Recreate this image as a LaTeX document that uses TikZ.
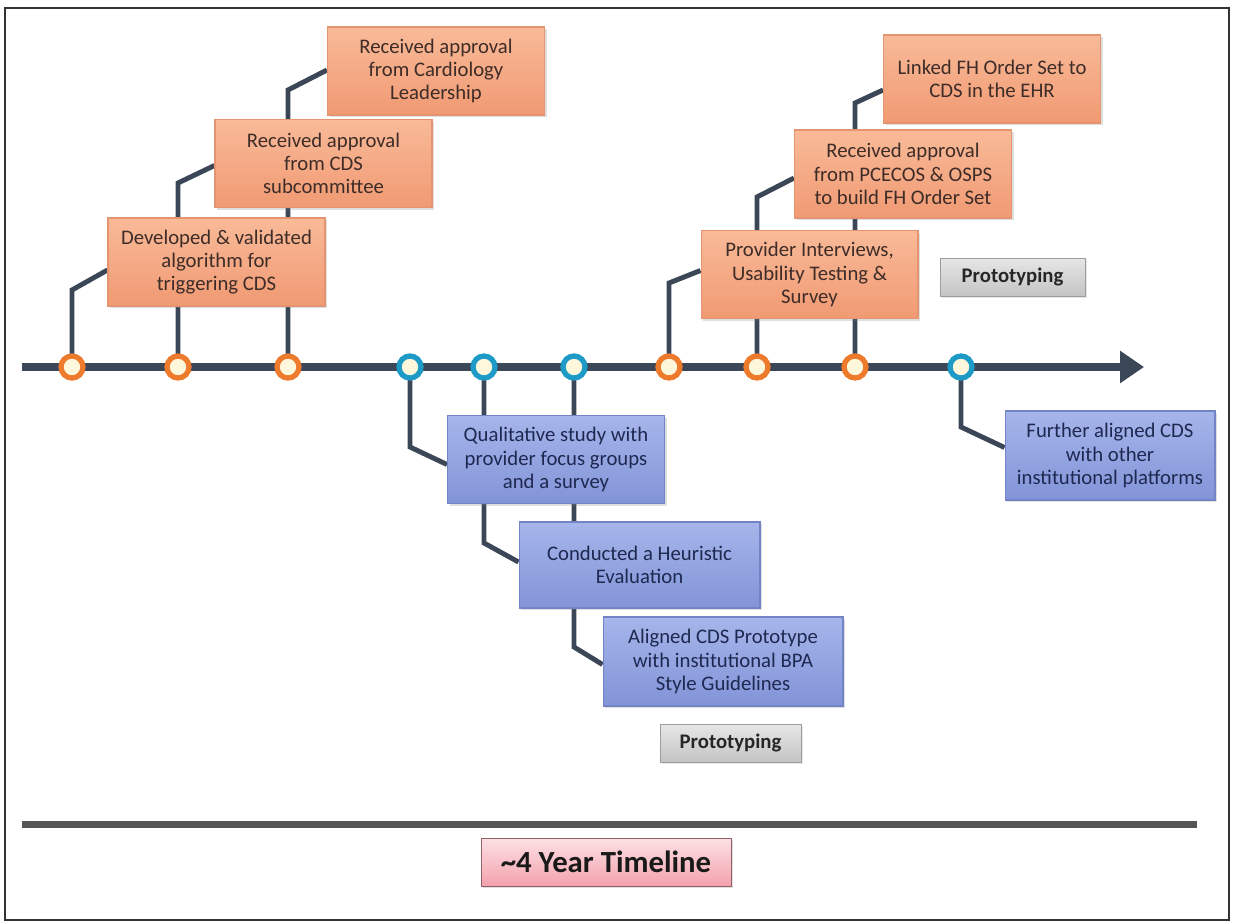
\documentclass[tikz,border=0pt]{standalone}
\usepackage{fontspec}
\setmainfont{Carlito}
\usetikzlibrary{arrows.meta,calc,backgrounds,shadows}
\definecolor{axiscol}{HTML}{3B4657}
\definecolor{orangering}{HTML}{EE7A2C}
\definecolor{bluering}{HTML}{1E9AC6}
\definecolor{ringfill}{HTML}{FFF7DC}
\definecolor{orgtop}{HTML}{F9BA98}
\definecolor{orgbot}{HTML}{F09A73}
\definecolor{orgdraw}{HTML}{E59470}
\definecolor{orgtext}{HTML}{3E2C28}
\definecolor{blutop}{HTML}{A6B5EA}
\definecolor{blubot}{HTML}{8294D8}
\definecolor{bludraw}{HTML}{7384C6}
\definecolor{blutext}{HTML}{1E2850}
\definecolor{graytop}{HTML}{E6E6E6}
\definecolor{graybot}{HTML}{C4C4C4}
\definecolor{pinktop}{HTML}{FDE0E4}
\definecolor{pinkbot}{HTML}{F3A2AD}
\definecolor{framecol}{HTML}{333333}
\definecolor{baseline}{HTML}{555555}
\tikzset{
  evbox/.style={rectangle, align=center, inner sep=2pt, minimum width=4.34cm, minimum height=1.76cm,
    font=\fontsize{11.8}{13.2}\selectfont, drop shadow={opacity=0.25, shadow xshift=1.2pt, shadow yshift=-1.2pt}},
  orgbox/.style={evbox, draw=orgdraw, line width=0.6pt, top color=orgtop, bottom color=orgbot, text=orgtext},
  blubox/.style={evbox, draw=bludraw, line width=0.6pt, top color=blutop, bottom color=blubot, text=blutext},
  protobox/.style={rectangle, draw=graybot!80!black, line width=0.4pt, top color=graytop, bottom color=graybot,
    font=\fontsize{11.8}{13}\selectfont\bfseries, text=black!85, drop shadow={opacity=0.2, shadow xshift=1pt, shadow yshift=-1pt}},
  marker/.style={circle, minimum size=0.44cm, inner sep=0pt, line width=3pt, fill=ringfill},
  omark/.style={marker, draw=orangering},
  bmark/.style={marker, draw=bluering},
  conn/.style={draw=axiscol, line width=2.8pt},
}
\begin{document}
\begin{tikzpicture}[x=0.02cm,y=-0.02cm]
\useasboundingbox (0,0) rectangle (1236,923);
\draw[framecol, line width=1.4pt] (5,8) rectangle (1229,920);

% markers
\node[omark] (m1) at (72,367) {};
\node[omark] (m2) at (178,367) {};
\node[omark] (m3) at (288,367) {};
\node[bmark] (m4) at (410,367) {};
\node[bmark] (m5) at (484,367) {};
\node[bmark] (m6) at (574,367) {};
\node[omark] (m7) at (669,367) {};
\node[omark] (m8) at (757,367) {};
\node[omark] (m9) at (855,367) {};
\node[bmark] (m10) at (961,367) {};

\coordinate (axL) at (22,367);
\coordinate (axR) at (1144,367);

% orange boxes
\node[orgbox] (b1) at (216.5,262) {Developed \& validated\\algorithm for\\triggering CDS};
\node[orgbox] (b2) at (323.5,163.5) {Received approval\\from CDS\\subcommittee};
\node[orgbox] (b3) at (436,71) {Received approval\\from Cardiology\\Leadership};
\node[orgbox] (b4) at (809.5,274.5) {Provider Interviews,\\Usability Testing \&\\Survey};
\node[orgbox] (b5) at (903,174) {Received approval\\from PCECOS \& OSPS\\to build FH Order Set};
\node[orgbox] (b6) at (992,79) {Linked FH Order Set to\\CDS in the EHR};

% blue boxes
\node[blubox] (q) at (556,459.5) {Qualitative study with\\provider focus groups\\and a survey};
\node[blubox, minimum width=4.82cm, minimum height=1.72cm] (h) at (639.5,565) {Conducted a Heuristic\\Evaluation};
\node[blubox, minimum width=4.8cm, minimum height=1.78cm] (a) at (723,661.5) {Aligned CDS Prototype\\with institutional BPA\\Style Guidelines};
\node[blubox, minimum width=4.2cm, minimum height=1.78cm] (f) at (1110,455.5) {Further aligned CDS\\with other\\institutional platforms};

% prototyping labels
\node[protobox, minimum width=2.9cm, minimum height=0.76cm] (p1) at (1012.5,277) {Prototyping};
\node[protobox, minimum width=2.82cm, minimum height=0.76cm] (p2) at (730.5,743) {Prototyping};

% bottom
\coordinate (bL) at (22,824);
\coordinate (bR) at (1197,824);
\node[rectangle, draw=pinkbot!60!black, line width=0.5pt, top color=pinktop, bottom color=pinkbot,
  minimum width=5.0cm, minimum height=0.96cm, font=\fontsize{17.5}{20}\selectfont\bfseries, text=black!90,
  drop shadow={opacity=0.25, shadow xshift=1pt, shadow yshift=-1.2pt}] (t) at (606,862) {\textasciitilde 4 Year Timeline};

\begin{scope}[on background layer]
  \draw[draw=baseline, line width=4pt] (bL) -- (bR);
  \draw[draw=axiscol, line width=4pt, -{Triangle[length=0.48cm, width=0.62cm]}] (axL) -- (axR);
  \draw[conn] (m1.center) -- ++(0,-77) -- ($(b1.west)+(0,8)$);
  \draw[conn] (m2.center) -- ++(0,-184) -- ($(b2.west)+(0,2)$);
  \draw[conn] (m3.center) -- ++(0,-277) -- ($(b3.west)+(0,-1)$);
  \draw[conn] (m7.center) -- ++(0,-84) -- ($(b4.west)+(0,-4)$);
  \draw[conn] (m8.center) -- ++(0,-170) -- ($(b5.west)+(0,4)$);
  \draw[conn] (m9.center) -- ++(0,-264) -- ($(b6.west)+(0,11)$);
  \draw[conn] (m4.center) -- ++(0,80) -- ($(q.west)+(0,5)$);
  \draw[conn] (m5.center) -- ++(0,176) -- ($(h.west)+(0,-3)$);
  \draw[conn] (m6.center) -- ++(0,280) -- ($(a.west)+(0,3)$);
  \draw[conn] (m10.center) -- ++(0,60) -- ($(f.west)+(0,-8)$);
\end{scope}
\end{tikzpicture}
\end{document}
